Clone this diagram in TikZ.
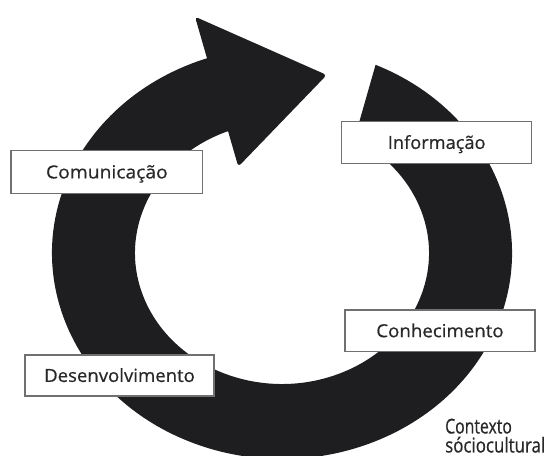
\documentclass[tikz,border=0pt]{standalone}
\usepackage{fontspec}
\setmainfont{Open Sans}
\newfontfamily\lblfont{Open Sans}[RawFeature={embolden=0.6}]
\usetikzlibrary{calc}
\definecolor{ringc}{RGB}{30,30,33}
\definecolor{boxline}{RGB}{112,112,112}
\definecolor{txt}{RGB}{40,40,42}
\newcommand\fitw[2]{\resizebox{#1}{\height}{#2}}
\begin{document}
\begin{tikzpicture}[x=1bp,y=1bp,
  lbl/.style={draw=boxline, line width=1.3bp, fill=white, inner sep=0pt,
    minimum width=190bp, minimum height=42bp, text=txt,
    font=\lblfont\fontsize{18bp}{20bp}\selectfont, text height=12.8bp, text depth=0pt},
  ctx/.style={text=txt, inner sep=0pt, align=left,
    font=\lblfont\fontsize{20.5bp}{19bp}\selectfont}]
\useasboundingbox (0,0) rectangle (546,456);
\coordinate (C) at (282,203);
% ring body
\fill[ringc] (C) ++(66:230 and 206)
  arc[start angle=66, end angle=-251.3, x radius=230, y radius=206]
  -- ($(C)+(110.7:147 and 131)$)
  arc[start angle=110.7, end angle=420.5, x radius=147, y radius=131]
  -- cycle;
% arrow head
\coordinate (b1) at (195,439.3);
\coordinate (tip) at (326.7,381);
\coordinate (b2) at (238.3,289.3);
\fill[ringc, rounded corners=3.5bp] (b1) -- (tip) -- (b2) -- cycle;
% labels
\node[lbl, minimum width=191.7bp, minimum height=42.6bp] (com) at (106.9,284) {\fitw{121.7bp}{Comunicação}};
\node[lbl, minimum height=41.6bp] (inf) at (436.7,313.5) {\fitw{97.7bp}{Informação}};
\node[lbl, minimum height=41.7bp] (con) at (440,125.2) {\fitw{127.3bp}{Conhecimento}};
\node[lbl, minimum width=189bp, minimum height=41bp] (des) at (119.5,80.5) {\fitw{150.7bp}{Desenvolvimento}};
\node[ctx, anchor=base west] (ctx) at (445,3.5) {\fitw{66.7bp}{Contexto}\\\fitw{100bp}{sóciocultural}};
\end{tikzpicture}
\end{document}
